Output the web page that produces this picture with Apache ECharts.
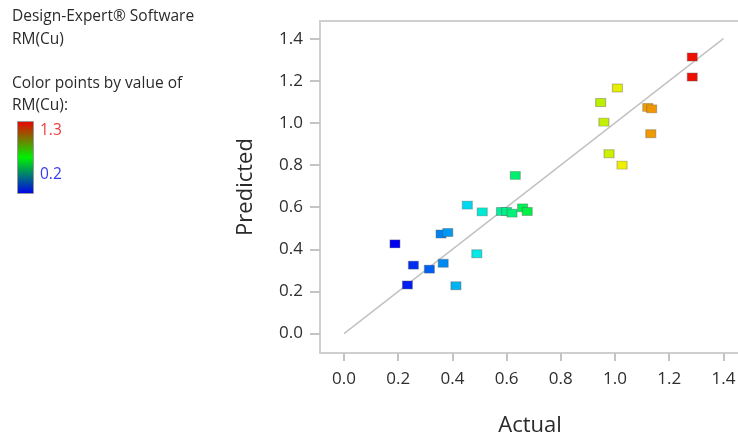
<!DOCTYPE html>
<html>
<head>
<meta charset="utf-8">
<script src="https://cdn.jsdelivr.net/npm/echarts@6/dist/echarts.min.js"></script>
<style>
  html, body { margin: 0; padding: 0; background: #ffffff; }
  #chart { width: 738px; height: 440px; }
</style>
</head>
<body>
<div id="chart"></div>
<script>
// Actual vs. predicted RM(Cu) for each run
const actual = [0.188, 0.256, 0.315, 0.234, 0.366, 0.413, 0.358, 0.383, 0.455, 0.490,
                0.510, 0.581, 0.600, 0.620, 0.659, 0.676, 0.632, 1.009, 0.947, 0.959,
                0.978, 1.026, 1.121, 1.135, 1.132, 1.285, 1.285];
const predicted = [0.426, 0.325, 0.306, 0.231, 0.334, 0.227, 0.473, 0.480, 0.610, 0.379,
                   0.578, 0.580, 0.580, 0.572, 0.597, 0.580, 0.751, 1.166, 1.097, 1.004,
                   0.854, 0.800, 1.074, 1.067, 0.949, 1.313, 1.218];
// y = x reference line
const parityLine = [[0, 0], [1.4, 1.4]];
// tick values shared by both axes
const tickValues = [0.0, 0.2, 0.4, 0.6, 0.8, 1.0, 1.2, 1.4];
// colour scale range
const colorMin = 0.2;
const colorMax = 1.3;

const FONT = '"Open Sans", "Noto Sans", sans-serif';
const points = actual.map((a, i) => [a, predicted[i]]);

const chart = echarts.init(document.getElementById('chart'), null, { renderer: 'canvas' });

chart.setOption({
  animation: false,
  backgroundColor: '#ffffff',
  grid: {
    left: 320, right: -2, top: 21, bottom: 87,
    outerBoundsMode: 'none', containLabel: false,
    show: true, borderColor: '#cfcfcf', borderWidth: 2, backgroundColor: 'transparent'
  },
  xAxis: {
    type: 'value',
    min: -0.0886, max: 1.4612,
    name: 'Actual', nameLocation: 'middle', nameGap: 62,
    nameTextStyle: { fontFamily: FONT, fontSize: 22, color: '#2a2a2a' },
    axisLine: { show: false, onZero: false },
    splitLine: { show: false },
    axisTick: { show: true, length: 8, customValues: tickValues,
                lineStyle: { color: '#c4c4c4', width: 2 } },
    axisLabel: { customValues: tickValues, margin: 18, fontFamily: FONT, fontSize: 17,
                 color: '#2e2e2e', formatter: v => v.toFixed(1) }
  },
  yAxis: {
    type: 'value',
    min: -0.092, max: 1.484,
    name: 'Predicted', nameLocation: 'middle', nameGap: 63,
    nameTextStyle: { fontFamily: FONT, fontSize: 22, color: '#2a2a2a' },
    axisLine: { show: false, onZero: false },
    splitLine: { show: false },
    axisTick: { show: true, length: 10, customValues: tickValues,
                lineStyle: { color: '#c4c4c4', width: 2 } },
    axisLabel: { customValues: tickValues, margin: 17, fontFamily: FONT, fontSize: 17,
                 color: '#2e2e2e', formatter: v => v.toFixed(1) }
  },
  visualMap: {
    type: 'continuous', show: false, seriesIndex: 1, dimension: 0,
    min: colorMin, max: colorMax,
    inRange: { color: ['#0000f0', '#0070f0', '#00e8f0', '#00f080', '#00f000',
                       '#90f000', '#f0f000', '#f08000', '#f00000'] }
  },
  series: [
    {
      type: 'line', data: parityLine, symbol: 'none', silent: true,
      lineStyle: { color: '#c2c2c2', width: 1.5 }, z: 1
    },
    {
      type: 'scatter', data: points, symbol: 'rect', symbolSize: [10, 8],
      itemStyle: { opacity: 1, borderColor: 'rgba(90,90,90,0.4)', borderWidth: 1 }, z: 2
    }
  ],
  graphic: [
    { type: 'text', left: 12, top: 9, style: { text: 'Design-Expert® Software', font: '15.5px ' + FONT, fill: '#2a2a2a' } },
    { type: 'text', left: 12, top: 32, style: { text: 'RM(Cu)', font: '15.5px ' + FONT, fill: '#2a2a2a' } },
    { type: 'text', left: 12, top: 76, style: { text: 'Color points by value of', font: '15.5px ' + FONT, fill: '#2a2a2a' } },
    { type: 'text', left: 12, top: 98, style: { text: 'RM(Cu):', font: '15.5px ' + FONT, fill: '#2a2a2a' } },
    {
      type: 'rect', left: 17, top: 121, shape: { width: 16, height: 72 },
      style: {
        fill: new echarts.graphic.LinearGradient(0, 0, 0, 1, [
          { offset: 0, color: '#ee0000' },
          { offset: 0.5, color: '#00f000' },
          { offset: 1, color: '#0000ee' }
        ]),
        stroke: '#9a9a9a', lineWidth: 1
      }
    },
    { type: 'text', left: 40, top: 123, style: { text: String(colorMax), font: '15.5px ' + FONT, fill: '#f03a3a' } },
    { type: 'text', left: 40, top: 167, style: { text: String(colorMin), font: '15.5px ' + FONT, fill: '#3a3af0' } }
  ]
});
</script>
</body>
</html>
